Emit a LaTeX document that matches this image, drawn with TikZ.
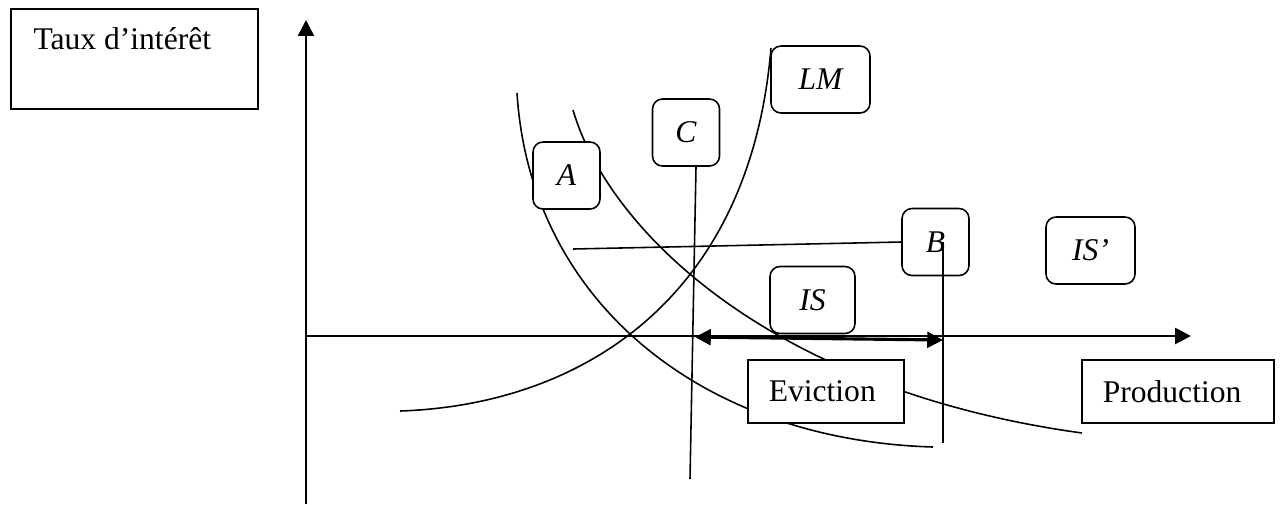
\documentclass[tikz,border=0pt]{standalone}
\usepackage{fontspec}
\setmainfont{Liberation Serif}
\usetikzlibrary{arrows.meta}
\newlength{\upx}
\setlength{\upx}{0.38pt}

\begin{document}
\begin{tikzpicture}[
  x=0.38pt, y=-0.38pt,
  >={Triangle[length=6pt,width=6pt]},
  axis/.style={line width=1pt},
  curve/.style={line width=0.6pt},
  guide/.style={line width=0.6pt},
  textbox/.style={draw, line width=0.6pt, fill=white, inner ysep=0pt,
                  inner xsep=21\upx, align=left,
                  font=\fontsize{12}{14}\selectfont},
  pointbox/.style={draw, line width=0.6pt, fill=white, rounded corners=3.8pt,
                   inner sep=0pt, minimum width=67\upx, minimum height=67\upx,
                   font=\fontsize{12}{14}\selectfont\itshape}
]
  \useasboundingbox (0,0) rectangle (1280,504);

  % axes
  \coordinate (origin) at (306,336);
  \coordinate (ytop) at (306,20);
  \coordinate (ybot) at (306,504);
  \coordinate (xend) at (1191,336);
  \draw[axis,->] (ybot) -- (ytop);
  \draw[axis,->] (origin) -- (xend);

  % LM, IS and IS' curves
  \coordinate (lmlow) at (400,411);
  \coordinate (lmtop) at (771,48);
  \coordinate (istop) at (517,93);
  \coordinate (islow) at (933,447);
  \coordinate (isptop) at (573,110);
  \coordinate (isplow) at (1082,433);
  \draw[curve] (lmlow) .. controls (580,405) and (750,300) .. (lmtop);
  \draw[curve] (istop) .. controls (530,300) and (700,440) .. (islow);
  \draw[curve] (isptop) .. controls (608,230) and (770,390) .. (isplow);

  % text boxes
  \node[textbox, minimum width=247\upx, minimum height=100\upx,
        anchor=north west] (tauxbox) at (10,8) {};
  \node[anchor=base west, inner sep=0pt, font=\fontsize{12}{14}\selectfont]
        (taux) at (33,49) {Taux d’intérêt};
  \node[textbox, text width=114\upx, minimum height=63\upx,
        anchor=north west] (evict) at (747,359) {Eviction};
  \node[textbox, text width=150\upx, minimum height=63\upx,
        anchor=north west] (prod) at (1081,359) {Production};

  % point and curve labels
  \node[pointbox] (A) at (566.5,175.5) {A};
  \node[pointbox] (C) at (686,132.5) {C};
  \node[pointbox] (B) at (935.5,242) {B};
  \node[pointbox, minimum width=85\upx] (IS) at (812.5,300) {IS};
  \node[pointbox, minimum width=89\upx] (ISp) at (1090.5,250.5) {IS'};
  \node[pointbox, minimum width=99\upx] (LM) at (820.5,79.5) {LM};

  % guides
  \coordinate (hstart) at (573,249);
  \coordinate (cfoot) at (690,479);
  \coordinate (bfoot) at (943,443);
  \draw[guide] (hstart) -- (B.west);
  \draw[guide] ([xshift=10\upx]C.south) -- (cfoot);
  \draw[guide] ([xshift=7.5\upx]B.center) -- (bfoot);

  % crowding out
  \coordinate (evleft) at (695,337);
  \coordinate (evright) at (943,340);
  \draw[<->, line width=1.2pt] (evleft) -- (evright);
\end{tikzpicture}
\end{document}
